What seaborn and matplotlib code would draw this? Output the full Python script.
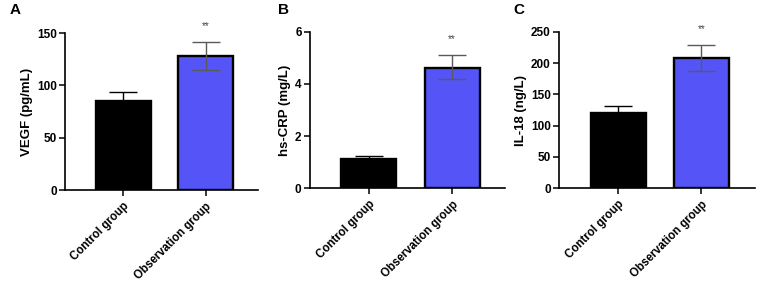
import matplotlib
matplotlib.use("Agg")
import matplotlib.pyplot as plt
import pandas as pd
import seaborn as sns

GROUPS = ["Control group", "Observation group"]

# Bar heights and error bar ends
VEGF_MEAN = [85, 128]
VEGF_UPPER = [94, 141]
VEGF_LOWER = [76, 115]

CRP_MEAN = [1.1, 4.63]
CRP_UPPER = [1.22, 5.12]
CRP_LOWER = [0.98, 4.18]

IL18_MEAN = [120, 208]
IL18_UPPER = [132, 229]
IL18_LOWER = [108, 187]

PANELS = [
    ("A", "VEGF (pg/mL)", VEGF_MEAN, VEGF_UPPER, VEGF_LOWER, [0, 50, 100, 150]),
    ("B", "hs-CRP (mg/L)", CRP_MEAN, CRP_UPPER, CRP_LOWER, [0, 2, 4, 6]),
    ("C", "IL-18 (ng/L)", IL18_MEAN, IL18_UPPER, IL18_LOWER,
     [0, 50, 100, 150, 200, 250]),
]

sns.set_theme(style="ticks")
plt.rcParams["font.family"] = ["Liberation Sans", "DejaVu Sans"]
plt.rcParams["font.weight"] = "bold"
for key in ["text.color", "axes.labelcolor", "xtick.color", "ytick.color",
            "axes.edgecolor"]:
    plt.rcParams[key] = "black"

COLORS = ["#000000", "#5555f7"]
ERR_COLORS = ["#000000", "#5a5a5a"]

# axes boxes in figure fractions: left, bottom, width, height
BOXES = [
    (0.0847, 0.333, 0.252, 0.551),
    (0.404, 0.340, 0.255, 0.548),
    (0.729, 0.340, 0.255, 0.548),
]
LETTER_X = [0.012, 0.362, 0.669]


def draw_panel(ax, label, mean, upper, lower, ticks):
    df = pd.DataFrame({"group": GROUPS, "value": mean})
    sns.barplot(data=df, x="group", y="value", hue="group", palette=COLORS,
                width=0.66, edgecolor="black", linewidth=1.7, legend=False,
                saturation=1, ax=ax, zorder=2)
    for i in range(len(GROUPS)):
        ax.errorbar(i, mean[i],
                    yerr=[[mean[i] - lower[i]], [upper[i] - mean[i]]],
                    color=ERR_COLORS[i], elinewidth=1.0, capsize=10,
                    capthick=1.0, zorder=3)
    # significance stars above observation group
    ax.annotate("**", xy=(1, upper[1]), xytext=(0, 8),
                textcoords="offset points", ha="center", va="bottom",
                fontsize=7, color="#444444", fontweight="normal")
    ax.set_xlim(-0.71, 1.64)
    ax.set_ylim(0, ticks[-1])
    ax.set_yticks(ticks)
    ax.set_xlabel("")
    ax.set_ylabel(label, fontsize=9.5, fontweight="bold", labelpad=3)
    ax.tick_params(axis="x", rotation=45, labelsize=8.3, length=4, width=1.1)
    ax.tick_params(axis="y", labelsize=8.5, length=4, width=1.1, pad=2)
    for lab in ax.get_xticklabels():
        lab.set_ha("right")
        lab.set_rotation_mode("anchor")
        lab.set_fontweight("bold")
    for lab in ax.get_yticklabels():
        lab.set_fontweight("bold")
    sns.despine(ax=ax)
    for side in ["left", "bottom"]:
        ax.spines[side].set_linewidth(1.2)


def main():
    fig = plt.figure(figsize=(7.67, 2.85), dpi=100)
    for (letter, label, mean, upper, lower, ticks), box, lx in zip(
            PANELS, BOXES, LETTER_X):
        ax = fig.add_axes(box)
        draw_panel(ax, label, mean, upper, lower, ticks)
        fig.text(lx, 0.99, letter, fontsize=11, fontweight="bold",
                 ha="left", va="top")
    fig.savefig("out.png", dpi=100, facecolor="white")
    plt.close(fig)


if __name__ == "__main__":
    main()
